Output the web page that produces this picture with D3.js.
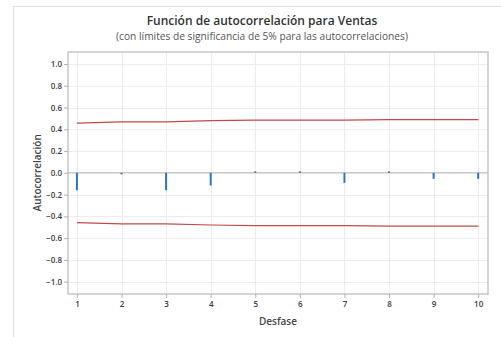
<!DOCTYPE html>
<html>
<head>
<meta charset="utf-8">
<script src="https://cdn.jsdelivr.net/npm/d3@7"></script>
<style>
  html, body { margin: 0; padding: 0; background: #fff; }
  svg { display: block; font-family: "Open Sans", "Noto Sans", sans-serif; }
</style>
</head>
<body>
<svg id="chart" width="501" height="337"></svg>
<script>
// Autocorrelation of Ventas by lag, with 5% significance limits
const lags = [1, 2, 3, 4, 5, 6, 7, 8, 9, 10];
const acf = [-0.16, -0.01, -0.16, -0.117, 0.012, 0.012, -0.092, 0.002, -0.055, -0.055];
const upperLimit = [0.457, 0.468, 0.468, 0.479, 0.485, 0.485, 0.485, 0.489, 0.489, 0.489];
const lowerLimit = [-0.457, -0.468, -0.468, -0.479, -0.485, -0.485, -0.485, -0.489, -0.489, -0.489];
const yTicks = [-1.0, -0.8, -0.6, -0.4, -0.2, 0.0, 0.2, 0.4, 0.6, 0.8, 1.0];

const titleText = "Función de autocorrelación para Ventas";
const subtitleText = "(con límites de significancia de 5% para las autocorrelaciones)";
const xLabel = "Desfase";
const yLabel = "Autocorrelación";

const svg = d3.select("#chart");
const plot = { left: 68, right: 488, top: 52, bottom: 294 };

const x = d3.scaleLinear().domain([0.8, 10.22]).range([plot.left, plot.right]);
const y = d3.scaleLinear().domain([-1.113, 1.11]).range([plot.bottom, plot.top]);

// outer frame
svg.append("rect")
  .attr("x", 13.5).attr("y", 6.5).attr("width", 520).attr("height", 360)
  .attr("fill", "none").attr("stroke", "#e3e3e3").attr("stroke-width", 1);

// gridlines
const grid = svg.append("g");
grid.selectAll("line.v").data(lags).join("line")
  .attr("x1", d => Math.round(x(d)) + 0.5).attr("x2", d => Math.round(x(d)) + 0.5)
  .attr("y1", plot.top).attr("y2", plot.bottom)
  .attr("stroke", "#ececec").attr("stroke-width", 1);
grid.selectAll("line.h").data(yTicks.filter(d => d !== 0)).join("line")
  .attr("x1", plot.left).attr("x2", plot.right)
  .attr("y1", d => Math.round(y(d)) + 0.5).attr("y2", d => Math.round(y(d)) + 0.5)
  .attr("stroke", "#ececec").attr("stroke-width", 1);

// zero reference line
svg.append("line")
  .attr("x1", plot.left).attr("x2", plot.right)
  .attr("y1", y(0)).attr("y2", y(0))
  .attr("stroke", "#c8c8c8").attr("stroke-width", 1.5);

// significance limits
const limitLine = d3.line().x((d, i) => x(lags[i])).y(d => y(d));
[upperLimit, lowerLimit].forEach(arr => {
  svg.append("path")
    .attr("d", limitLine(arr))
    .attr("fill", "none").attr("stroke", "#c24a48").attr("stroke-width", 1.2);
});

// autocorrelation spikes
svg.selectAll("line.acf").data(lags).join("line")
  .attr("x1", d => x(d)).attr("x2", d => x(d))
  .attr("y1", y(0))
  .attr("y2", (d, i) => {
    const v = y(acf[i]);
    // very small values still show a short tick
    return Math.abs(v - y(0)) < 1.5 ? y(0) + (acf[i] >= 0 ? -1.5 : 1.5) : v;
  })
  .attr("stroke", "#2f74c4").attr("stroke-width", 2);

// plot border
svg.append("rect")
  .attr("x", plot.left).attr("y", plot.top)
  .attr("width", plot.right - plot.left).attr("height", plot.bottom - plot.top)
  .attr("fill", "none").attr("stroke", "#c6c6c6").attr("stroke-width", 1.5);

// axes
const yAxis = d3.axisLeft(y).tickValues(yTicks).tickFormat(d3.format(".1f")).tickSize(4).tickPadding(2);
const gy = svg.append("g").attr("transform", `translate(${plot.left},0)`).call(yAxis);
const xAxis = d3.axisBottom(x).tickValues(lags).tickFormat(d3.format("d")).tickSize(4).tickPadding(3);
const gx = svg.append("g").attr("transform", `translate(0,${plot.bottom})`).call(xAxis);
[gy, gx].forEach(g => {
  g.select(".domain").remove();
  g.selectAll(".tick line").attr("stroke", "#b0b0b0");
  g.selectAll(".tick text").attr("fill", "#3a3a3a").attr("font-size", 8)
    .attr("font-weight", 600).attr("font-family", "'Open Sans', sans-serif");
});

// titles
svg.append("text").attr("x", 262).attr("y", 25).attr("text-anchor", "middle")
  .attr("font-size", 12).attr("font-weight", 600).attr("fill", "#333")
  .text(titleText);
svg.append("text").attr("x", 262).attr("y", 40).attr("text-anchor", "middle")
  .attr("font-size", 10.2).attr("fill", "#555")
  .text(subtitleText);

// axis labels
svg.append("text").attr("x", 278).attr("y", 325).attr("text-anchor", "middle")
  .attr("font-size", 10).attr("font-weight", 600).attr("fill", "#444")
  .text(xLabel);
svg.append("text").attr("transform", `translate(41,${y(0)}) rotate(-90)`)
  .attr("text-anchor", "middle")
  .attr("font-size", 10).attr("font-weight", 600).attr("fill", "#444")
  .text(yLabel);
</script>
</body>
</html>
